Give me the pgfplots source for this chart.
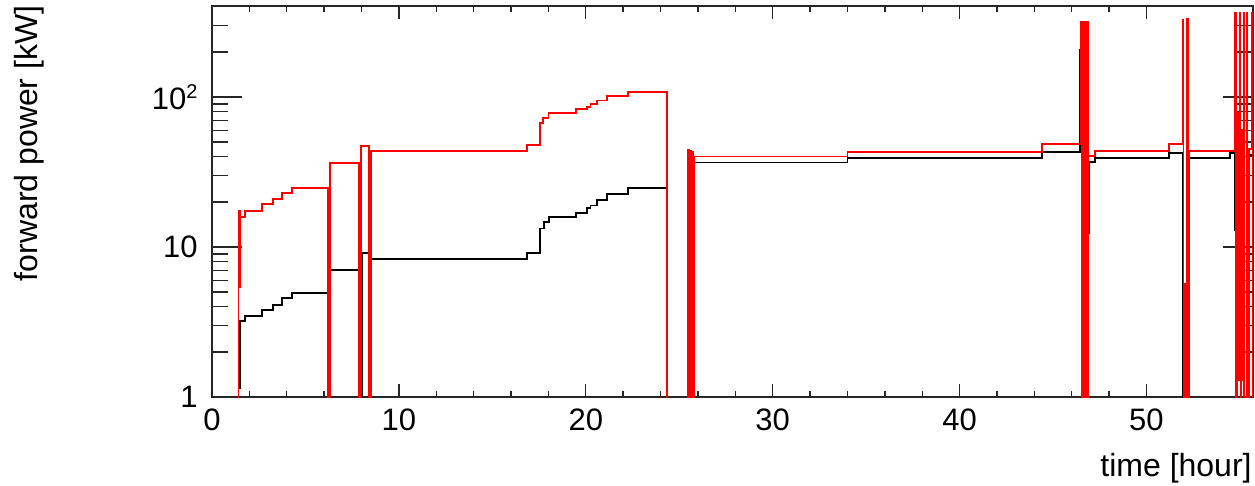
\documentclass[border=0pt]{standalone}
\usepackage{fontspec}
\setmainfont{Liberation Sans}
\usepackage{pgfplots}
\pgfplotsset{compat=1.18}
\begin{document}
\begin{tikzpicture}
\begin{axis}[
  scale only axis, width=520.5pt, height=195.5pt,
  xmin=0, xmax=55.7, ymode=log, ymin=1, ymax=404,
  xtick={0,10,20,30,40,50}, xticklabels={0,10,20,30,40,50},
  minor x tick num=4,
  ytick={1,10,100},
  yticklabels={1,10,{10\raisebox{5.7pt}{\fontsize{10}{10}\selectfont 2}}},
  minor ytick={2,3,4,5,6,7,8,9,20,30,40,50,60,70,80,90,200,300},
  tick align=inside, tick pos=both,
  xtick style={/pgfplots/major tick length=6.5pt,/pgfplots/minor tick length=3pt},
  ytick style={/pgfplots/major tick length=15pt,/pgfplots/minor tick length=8pt},
  every tick/.style={black!85, line width=0.7pt},
  axis line style={black!85, line width=0.7pt},
  ticklabel style={font=\fontsize{15.5}{15.5}\selectfont, inner sep=0pt},
  /pgf/number format/assume math mode=true,
  xticklabel style={anchor=north, yshift=-5.5pt},
  yticklabel style={anchor=east, xshift=-7pt},
  clip mode=individual,
]
\addplot[black, line width=0.9pt, const plot, mark=none] coordinates {
(1.46,1.15) (1.50,3.21) (1.77,3.47) (2.66,3.80) (3.28,4.10) (3.73,4.57) (4.26,4.96)
(6.22,0.5) (6.28,7.02) (7.88,0.5) (8.02,9.12) (8.40,0.5) (8.50,8.28)
(16.85,9.15) (17.55,13.3) (17.75,14.7) (18.05,15.9) (19.48,16.9) (20.05,18.1)
(20.25,18.9) (20.60,20.5) (21.15,22.5) (22.27,24.6) (24.36,0.5)
(25.55,44.0) (25.62,0.5) (25.80,36.6) (34.00,39.2) (44.40,43.1)
(46.45,206) (46.52,0.5) (46.85,12.4) (46.92,37.0) (47.24,39.0) (51.22,42.4)
(51.95,0.5) (52.20,1.8) (52.28,39.0) (54.47,42.4) (54.74,12.9) (54.82,42.0)
(55.00,2.5) (55.10,20.0) (55.35,41.0) (55.70,41.0)
};
\addplot[red, line width=0.9pt, const plot, mark=none] coordinates {
(1.38,0.5) (1.42,17.4) (1.48,5.4) (1.53,15.9) (1.77,17.4) (2.66,19.3) (3.28,20.8)
(3.73,22.8) (4.26,24.6) (6.22,0.5) (6.30,36.1) (7.88,0.5) (7.98,47.3) (8.40,0.5)
(8.52,43.6) (16.85,47.9) (17.55,66.7) (17.70,72.0) (18.00,78.6) (19.48,83.0)
(20.05,86.2) (20.25,89.7) (20.60,94.6) (21.15,101.6) (22.27,108.4) (24.36,0.5)
(25.47,44.3) (25.52,0.5) (25.58,44.0) (25.64,0.5) (25.70,43.0) (25.76,0.5)
(25.82,40.1) (34.00,43.0) (44.40,48.5)
(46.48,317) (46.52,0.5) (46.56,317) (46.60,0.5) (46.64,317) (46.68,0.5)
(46.72,317) (46.76,0.5) (46.80,317) (46.85,0.5) (46.89,40.2) (47.24,43.8)
(51.22,48.5) (51.93,325) (51.98,0.5) (52.03,5.7) (52.08,0.5) (52.14,330)
(52.20,0.5) (52.26,43.8)
(54.74,361) (54.77,0.5) (54.85,78) (54.90,1.3) (54.96,78) (55.00,361)
(55.03,0.5) (55.08,60) (55.13,1.3) (55.20,361) (55.23,0.5) (55.36,361)
(55.39,0.5) (55.50,45) (55.64,361) (55.67,0.5) (55.70,0.5)
};
\coordinate (bl) at (rel axis cs:0,0);
\coordinate (br) at (rel axis cs:1,0);
\coordinate (tl) at (rel axis cs:0,1);
\coordinate (tr) at (rel axis cs:1,1);
\end{axis}
\node[anchor=base east, inner sep=0pt, font=\fontsize{16}{16}\selectfont] at ([xshift=-0.5pt,yshift=-39.5pt]br) {time [hour]};
\node[rotate=90, anchor=base east, inner sep=0pt, font=\fontsize{16}{16}\selectfont] at ([xshift=-87.25pt,yshift=0.5pt]tl) {forward power [kW]};
\pgfresetboundingbox
\path[use as bounding box] ([xshift=-106pt,yshift=-44pt]bl) rectangle ([xshift=1pt,yshift=3pt]tr);
\end{tikzpicture}
\end{document}
